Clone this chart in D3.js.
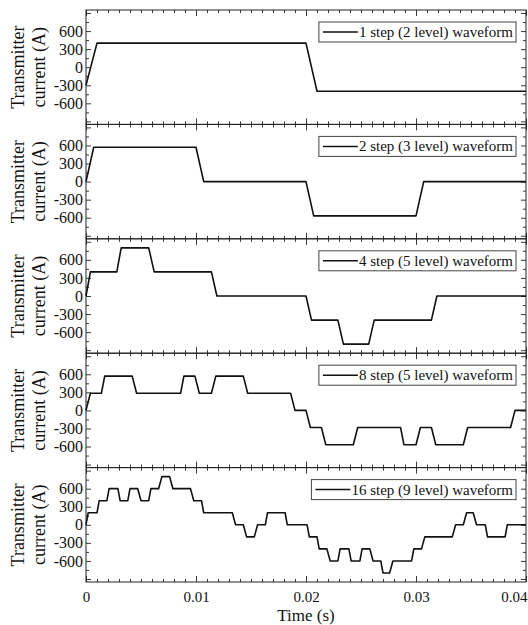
<!DOCTYPE html>
<html>
<head>
<meta charset="utf-8">
<script src="https://cdn.jsdelivr.net/npm/d3@7"></script>
<style>
  body { margin: 0; background: #fff; }
  svg text { font-family: "Liberation Serif", "Times New Roman", serif; fill: #111; }
</style>
</head>
<body>
<div id="chart"></div>
<script>
// waveform labels (one per panel)
const legendLabels = [
  "1 step (2 level) waveform",
  "2 step (3 level) waveform",
  "4 step (5 level) waveform",
  "8 step (5 level) waveform",
  "16 step (9 level) waveform"
];

// time (s) / current (A) breakpoints
const time1 = [0, 0.001, 0.02, 0.021, 0.04];
const current1 = [-300, 400, 400, -400, -400];

const time2 = [0, 0.0007, 0.01, 0.0107, 0.02, 0.0207, 0.03, 0.0307, 0.04];
const current2 = [0, 570, 570, 0, 0, -570, -570, 0, 0];

const time3 = [0, 0.0004, 0.0028, 0.0032, 0.0057, 0.0062, 0.0114, 0.0119,
  0.02, 0.0205, 0.0229, 0.0234, 0.0257, 0.0262, 0.0314, 0.0319, 0.04];
const current3 = [0, 400, 400, 800, 800, 400, 400, 0,
  0, -400, -400, -800, -800, -400, -400, 0, 0];

const time4 = [0, 0.0004, 0.0014, 0.0017, 0.0042, 0.0046, 0.0086, 0.0089,
  0.0099, 0.0103, 0.0114, 0.0118, 0.0143, 0.0147, 0.0186, 0.019,
  0.02, 0.0204, 0.0214, 0.0218, 0.0243, 0.0247, 0.0286, 0.0289,
  0.03, 0.0304, 0.0314, 0.0318, 0.0343, 0.0347, 0.0386, 0.039, 0.04];
const current4 = [0, 285, 285, 570, 570, 285, 285, 570,
  570, 285, 285, 570, 570, 285, 285, 0,
  0, -285, -285, -570, -570, -285, -285, -570,
  -570, -285, -285, -570, -570, -285, -285, 0, 0];

const time5 = [0, 0.0002, 0.001, 0.0012, 0.0019, 0.0021, 0.0029, 0.0031,
  0.0038, 0.004, 0.0047, 0.005, 0.0057, 0.0059, 0.0066, 0.0069,
  0.0076, 0.0079, 0.0095, 0.0098, 0.0105, 0.0107, 0.0133, 0.0136,
  0.0143, 0.0146, 0.0153, 0.0156, 0.0163, 0.0165, 0.0181, 0.0183,
  0.0201, 0.0203, 0.021, 0.0212, 0.0219, 0.0222, 0.0229, 0.0231,
  0.0239, 0.0241, 0.0249, 0.0251, 0.0258, 0.0261, 0.0268, 0.027,
  0.0276, 0.0279, 0.0296, 0.0298, 0.0305, 0.0308, 0.0333, 0.0336,
  0.0343, 0.0346, 0.0352, 0.0355, 0.0363, 0.0365, 0.0381, 0.0383, 0.04];
const current5 = [0, 200, 200, 400, 400, 600, 600, 400,
  400, 600, 600, 400, 400, 600, 600, 800,
  800, 600, 600, 400, 400, 200, 200, 0,
  0, -200, -200, 0, 0, 200, 200, 0,
  0, -200, -200, -400, -400, -600, -600, -400,
  -400, -600, -600, -400, -400, -600, -600, -800,
  -800, -600, -600, -400, -400, -200, -200, 0,
  0, 200, 200, 0, 0, -200, -200, 0, 0];

const times = [time1, time2, time3, time4, time5];
const currents = [current1, current2, current3, current4, current5];

// axis ticks
const xMajorTicks = [0, 0.01, 0.02, 0.03, 0.04];
const xTickLabels = ["0", "0.01", "0.02", "0.03", "0.04"];
const yMajorTicks = [-900, -600, -300, 0, 300, 600, 900];
const yTickLabels = ["-600", "-300", "0", "300", "600"];

const width = 528, height = 625;
const margin = { top: 10, right: 2, bottom: 43, left: 86 };
const plotW = width - margin.left - margin.right;
const plotH = height - margin.top - margin.bottom;
const panelH = plotH / 5;
const serif = "Liberation Serif";

const svg = d3
  .select("#chart")
  .append("svg")
  .attr("width", width)
  .attr("height", height);

const x = d3.scaleLinear().domain([0, 0.04]).range([0, plotW]);
const xMinor = d3.range(0, 41).map((k) => k / 1000).filter((v) => !xMajorTicks.some((m) => Math.abs(m - v) < 1e-9));
const yMinor = d3.range(-900, 901, 150).filter((v) => v % 300 !== 0);

const stroke = "#222";

times.forEach((tArr, i) => {
  const g = svg
    .append("g")
    .attr("transform", "translate(" + margin.left + "," + (margin.top + i * panelH) + ")");

  const y = d3.scaleLinear().domain([-950, 950]).range([panelH, 0]);

  // inward ticks on all four sides
  const addAxis = (axisFn, scale, vals, size, tx, ty, fmt) => {
    const a = g
      .append("g")
      .attr("transform", "translate(" + tx + "," + ty + ")")
      .call(axisFn(scale).tickValues(vals).tickSize(-size).tickPadding(size + 4).tickFormat(fmt || (() => "")));
    a.select(".domain").remove();
    a.attr("font-family", serif);
    a.selectAll(".tick line").attr("stroke", stroke).attr("stroke-width", 0.9);
    return a;
  };

  const isLast = i === 4;
  const bx = addAxis(d3.axisBottom, x, xMajorTicks, 6, 0, panelH,
    isLast ? (d, k) => xTickLabels[k] : null);
  addAxis(d3.axisBottom, x, xMinor, 3, 0, panelH);
  addAxis(d3.axisTop, x, xMajorTicks, 6, 0, 0);
  addAxis(d3.axisTop, x, xMinor, 3, 0, 0);

  const ly = addAxis(d3.axisLeft, y, yMajorTicks, 5, 0, 0,
    (d) => (yTickLabels.includes(String(d)) ? String(d) : ""));
  addAxis(d3.axisLeft, y, yMinor, 3, 0, 0);
  addAxis(d3.axisRight, y, yMajorTicks, 5, plotW, 0);
  addAxis(d3.axisRight, y, yMinor, 3, plotW, 0);

  ly.selectAll(".tick text")
    .attr("x", -3)
    .attr("font-size", 16)
    .attr("fill", "#111");
  bx.selectAll(".tick text")
    .attr("y", 9)
    .attr("font-size", 15)
    .attr("fill", "#111");
  // last label kept inside the window
  bx.selectAll(".tick text")
    .filter((d) => d === 0.04)
    .attr("text-anchor", "end")
    .attr("x", 1);

  // frame
  g.append("rect")
    .attr("width", plotW)
    .attr("height", panelH)
    .attr("fill", "none")
    .attr("stroke", stroke)
    .attr("stroke-width", 1);

  // waveform
  const pts = tArr.map((t, k) => ({ t: t, c: currents[i][k] }));
  g.append("path")
    .datum(pts)
    .attr("fill", "none")
    .attr("stroke", "#111")
    .attr("stroke-width", 1.6)
    .attr("stroke-linejoin", "round")
    .attr("d", d3.line().x((d) => x(d.t)).y((d) => y(d.c)));

  // legend box, right aligned
  const leg = g.append("g").attr("font-family", serif);
  const txt = leg
    .append("text")
    .attr("font-size", 15)
    .attr("y", 27)
    .text(legendLabels[i]);
  const tw = txt.node().getComputedTextLength();
  const boxRight = plotW - 10;
  const textX = boxRight - 3 - tw;
  txt.attr("x", textX);
  leg.insert("rect", "text")
    .attr("x", textX - 40)
    .attr("y", 12)
    .attr("width", tw + 43)
    .attr("height", 20)
    .attr("fill", "#fff")
    .attr("stroke", "#444")
    .attr("stroke-width", 1);
  leg.append("line")
    .attr("x1", textX - 36)
    .attr("x2", textX - 1)
    .attr("y1", 22)
    .attr("y2", 22)
    .attr("stroke", "#111")
    .attr("stroke-width", 1.5);

  // y title, two lines
  const cy = panelH / 2;
  g.append("text")
    .attr("transform", "translate(" + (24 - margin.left) + "," + cy + ") rotate(-90)")
    .attr("text-anchor", "middle")
    .attr("font-family", serif)
    .attr("font-size", 18)
    .text("Transmitter");
  g.append("text")
    .attr("transform", "translate(" + (45 - margin.left) + "," + cy + ") rotate(-90)")
    .attr("text-anchor", "middle")
    .attr("font-family", serif)
    .attr("font-size", 18)
    .text("current (A)");
});

// x title
svg.append("text")
  .attr("x", margin.left + plotW / 2)
  .attr("y", 621)
  .attr("text-anchor", "middle")
  .attr("font-family", serif)
  .attr("font-size", 17)
  .text("Time (s)");
</script>
</body>
</html>
